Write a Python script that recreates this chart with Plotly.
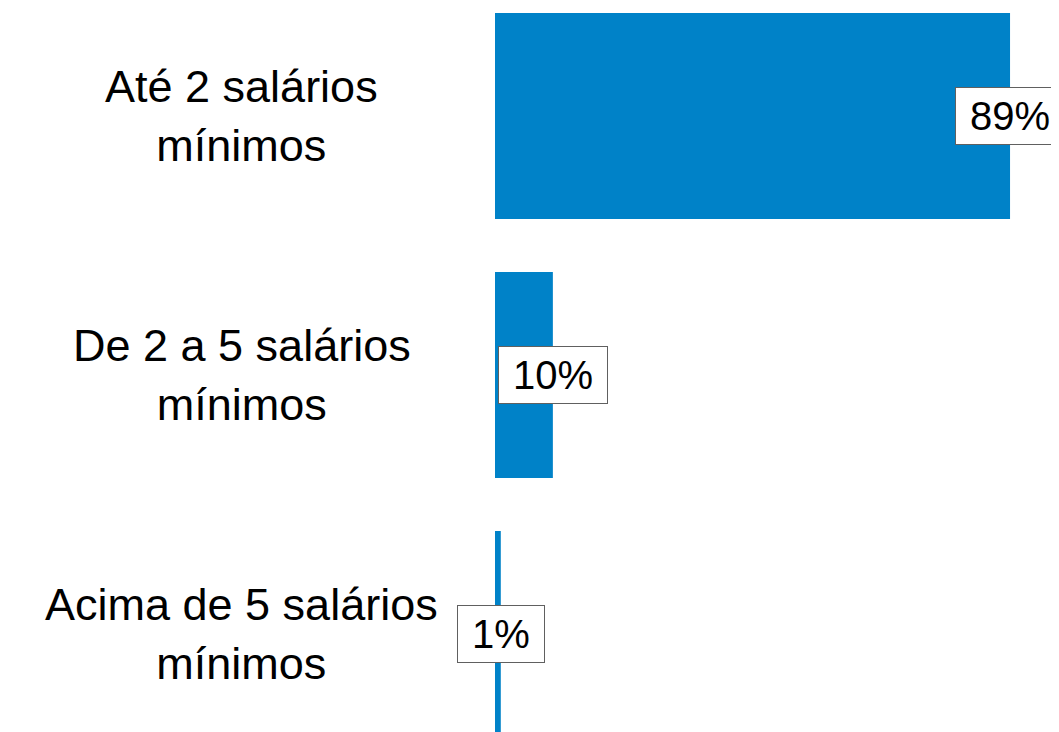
import plotly.graph_objects as go

categories = ["Até 2 salários<br>mínimos", "De 2 a 5 salários<br>mínimos", "Acima de 5 salários<br>mínimos"]
values = [89, 10, 1]
labels = ["89%", "10%", "1%"]

bar_color = "#0082C8"
font_family = "Liberation Sans, Arial, sans-serif"

fig = go.Figure()
fig.add_trace(go.Bar(
    y=categories,
    x=values,
    orientation="h",
    marker=dict(color=bar_color, line=dict(width=0)),
    width=0.795,
    hoverinfo="skip",
))

annotations = []
for cat, v, lab in zip(categories, values, labels):
    annotations.append(dict(
        x=v, y=cat, xref="x", yref="y", text="\u2009" + lab + "\u2009", showarrow=False,
        xanchor="center", yanchor="middle",
        font=dict(size=40, color="#000000", family=font_family),
        bgcolor="#FFFFFF", bordercolor="#606060", borderwidth=1, borderpad=6,
    ))
    annotations.append(dict(
        x=-0.4486, y=cat, xref="paper", yref="y", text=cat, showarrow=False,
        xanchor="center", yanchor="middle", align="center",
        font=dict(size=45, color="#000000", family=font_family),
    ))

fig.update_layout(
    width=1051, height=724,
    margin=dict(l=487, r=0, t=0, b=0),
    paper_bgcolor="#FFFFFF", plot_bgcolor="#FFFFFF",
    showlegend=False,
    xaxis=dict(range=[0, 97.46], visible=False, fixedrange=True),
    yaxis=dict(type="category", categoryorder="array", categoryarray=categories,
               range=[2.378, -0.417], showticklabels=False, showgrid=False,
               zeroline=False, showline=False, ticks="", fixedrange=True),
    annotations=annotations,
)

fig.write_html("out.html", config={"displayModeBar": False})
